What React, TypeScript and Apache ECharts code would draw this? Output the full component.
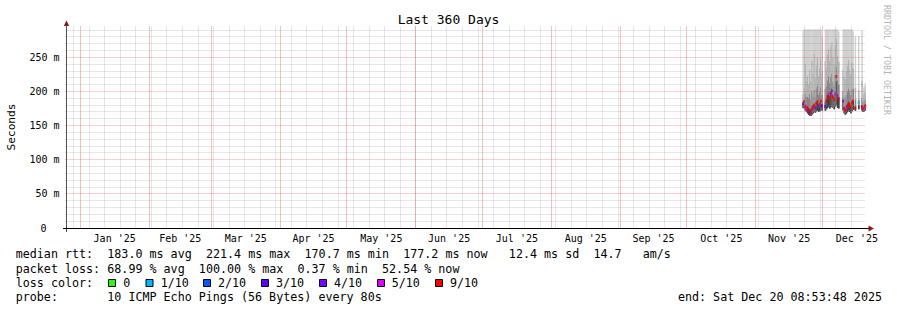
import React, { useEffect, useRef } from 'react';
import * as echarts from 'echarts';

// ---------- data ----------
const DAY = 86400000;
const START = Date.UTC(2024, 11, 25, 8, 53, 48);
const END = Date.UTC(2025, 11, 20, 8, 53, 48);
const SLOT_START = Date.UTC(2025, 10, 21, 12, 0, 0);
const SLOT_MS = 12 * 3600 * 1000;

const MONTH_STARTS = [
  Date.UTC(2025, 0, 1), Date.UTC(2025, 1, 1), Date.UTC(2025, 2, 1), Date.UTC(2025, 3, 1),
  Date.UTC(2025, 4, 1), Date.UTC(2025, 5, 1), Date.UTC(2025, 6, 1), Date.UTC(2025, 7, 1),
  Date.UTC(2025, 8, 1), Date.UTC(2025, 9, 1), Date.UTC(2025, 10, 1), Date.UTC(2025, 11, 1),
  Date.UTC(2026, 0, 1),
];
const MONTH_LABELS = ["Jan '25", "Feb '25", "Mar '25", "Apr '25", "May '25", "Jun '25",
  "Jul '25", "Aug '25", "Sep '25", "Oct '25", "Nov '25", "Dec '25"];
const FIRST_SUNDAY = Date.UTC(2024, 11, 29);

const Y_MAX = 296;
const Y_MAJOR = [50, 100, 150, 200, 250];

// smoke per 12h slot (ms); null = no data
const SMOKE_LO = [null,
  176, 175, 172, 170,
  168, 166, 165, 164, 166, 168, 170, 169, 171, 172, 170, 171, 173, 172,
  null, null,
  172, 174, 176, 178, 175, 177, 180, 176, 174, 178, 180, 176, 175,
  null, null, null,
  172, 168, 166, 168, 170, 172, 170, 168, 171, 173,
  null, 172, null, null, 174, null, null,
  172, 170, 171, 172, 173];
const SMOKE_P4 = [null,
  180, 181, 182, 178,
  178, 176, 175, 174, 178, 180, 182, 180, 184, 186, 181, 183, 186, 182,
  null, null,
  185, 190, 195, 198, 194, 200, 204, 196, 192, 200, 215, 196, 192,
  null, null, null,
  184, 178, 176, 180, 182, 185, 183, 180, 184, 186,
  null, 178, null, null, 180, null, null,
  180, 178, 178, 180, 180];
const SMOKE_P3 = [null,
  185, 188, 196, 192,
  192, 190, 196, 188, 200, 194, 202, 192, 204, 208, 195, 200, 206, 195,
  null, null,
  204, 208, 216, 222, 212, 220, 226, 214, 208, 224, 236, 216, 210,
  null, null, null,
  200, 192, 190, 195, 200, 204, 200, 195, 202, 204,
  null, 188, null, null, 188, null, null,
  190, 185, 186, 188, 186];
const SMOKE_P2 = [null,
  196, 205, 240, 215,
  222, 210, 232, 215, 245, 226, 255, 220, 238, 250, 222, 234, 248, 228,
  null, null,
  245, 235, 255, 262, 245, 266, 272, 250, 240, 268, 278, 252, 244,
  null, null, null,
  232, 222, 218, 230, 238, 246, 232, 225, 242, 234,
  null, 205, null, null, 202, null, null,
  215, 195, 197, 199, 195];
const SMOKE_HI = [null,
  289, 291, 291, 291,
  291, 291, 291, 291, 291, 291, 291, 291, 291, 291, 291, 291, 291, 280,
  null, null,
  291, 291, 291, 291, 291, 291, 291, 291, 291, 291, 291, 291, 288,
  null, null, null,
  291, 291, 291, 291, 291, 291, 291, 291, 291, 288,
  null, 281, null, null, 281, null, null,
  289, 205, 208, 212, 206];
const MEDIAN = [null,
  182, 185, 178, 175,
  176, 172, 170, 169, 174, 177, 180, 176, 183, 185, 178, 180, 186, 179,
  null, null,
  178, 186, 192, 196, 190, 198, 201, 192, 188, 196, 222, 193, 188,
  null, null, null,
  186, 175, 172, 176, 178, 182, 180, 177, 184, 186,
  null, 176, null, null, 184, null, null,
  178, 175, 176, 179, 177];
// loss in tenths
const LOSS = [null,
  3, 9, 9, 5,
  9, 9, 3, 9, 9, 9, 9, 4, 9, 9, 2, 9, 9, 3,
  null, null,
  3, 9, 9, 5, 9, 9, 2, 9, 9, 5, 9, 5, 9,
  null, null, null,
  3, 9, 9, 5, 9, 9, 9, 9, 9, 9,
  null, 9, null, null, 1, null, null,
  9, 9, 5, 9, 3];

const LEGEND_KEYS = [0, 1, 2, 3, 4, 5, 9];
const LEGEND_NAMES = ['0', '1/10', '2/10', '3/10', '4/10', '5/10', '9/10'];
const LOSS_COLORS: Record<number, string> = {
  0: '#26ff00', 1: '#00b8ff', 2: '#0059ff', 3: '#5e00ff', 4: '#7e00ff', 5: '#dd00ff', 9: '#ff0000',
};

const STATS_RTT = ['183.0 ms avg', '221.4 ms max', '170.7 ms min', '177.2 ms now', '12.4 ms sd', '14.7', 'am/s'];
const STATS_LOSS = ['68.99 % avg', '100.00 % max', '0.37 % min', '52.54 % now'];

// ---------- layout ----------
const W = 897, H = 310;
const MONO = "'DejaVu Sans Mono', monospace";
const GRID = { left: 65.5, top: 26, width: 800, height: 202 };
const SMOKE_COLORS = ['#d0d0d0', '#b2b2b2', '#868686', '#404040'];
const MINOR_COLOR = 'rgba(128,128,128,0.38)';
const MAJOR_COLOR = 'rgba(230,70,70,0.5)';
const V_MINOR_FILL = 'rgba(140,140,140,0.22)';
const V_MAJOR_FILL = 'rgba(235,90,90,0.38)';
const CH = 7.045; // monospace advance
const COL = (c: number) => 15.7 + c * CH;

const crisp = (v: number) => Math.round(v - 0.5) + 0.5;

function buildOption() {
  const smokeData: number[][] = [];
  const medData: number[][] = [];
  for (let k = 0; k < SMOKE_LO.length; k++) {
    if (SMOKE_LO[k] == null) continue;
    const t = SLOT_START + k * SLOT_MS;
    smokeData.push([t, SMOKE_LO[k]!, SMOKE_P4[k]!, SMOKE_P3[k]!, SMOKE_P2[k]!, SMOKE_HI[k]!]);
    medData.push([t + SLOT_MS / 2, MEDIAN[k]!, LOSS[k]!]);
  }
  const monthMids = MONTH_LABELS.map((_, i) => (MONTH_STARTS[i] + MONTH_STARTS[i + 1]) / 2);

  // grid lines: [x, y, orientation(0=vertical,1=horizontal), major(0/1)]
  const gridData: number[][] = [];
  for (let t = FIRST_SUNDAY; t < END; t += 7 * DAY) gridData.push([t, 100, 0, 0]);
  for (let v = 10; v < Y_MAX; v += 10) if (!Y_MAJOR.includes(v)) gridData.push([START, v, 1, 0]);
  for (let i = 0; i < 12; i++) gridData.push([MONTH_STARTS[i], 100, 0, 1]);
  for (const v of Y_MAJOR) gridData.push([START, v, 1, 1]);

  const textEl = (text: string, x: number, y: number, extra: any = {}, rotation = 0) => ({
    type: 'text', x, y, rotation, silent: true,
    style: { text, fontFamily: MONO, fontSize: 11.7, fill: '#000', align: 'left', verticalAlign: 'middle', ...extra },
  });

  const legendX = [108.5, 146, 203.5, 261.5, 319.5, 377.5, 435.5];
  const legendTextX = [123.3, 160.7, 218, 276, 334, 391.7, 450];
  const rttCols = [13, 27, 41, 55, 70, 82, 89];
  const lossCols = [13, 26, 40, 52];
  const L1 = 254.3, L2 = 268.7, L3 = 282.7, L4 = 296.7;

  const graphic: any[] = [
    textEl('Last 360 Days', 448.5, 19.5, { fontSize: 13, align: 'center' }),
    textEl('Seconds', 11, 127, { fontSize: 11.2, align: 'center' }, Math.PI / 2),
    textEl('RRDTOOL / TOBI OETIKER', 886.5, 60, { fontSize: 8.3, align: 'center', fill: '#b4b4b4' }, -Math.PI / 2),
    // axes
    { type: 'line', silent: true, z: 10, shape: { x1: 66.5, y1: 232, x2: 66.5, y2: 25 }, style: { stroke: '#505050', lineWidth: 1 } },
    { type: 'line', silent: true, z: 10, shape: { x1: 63, y1: 228.5, x2: 869, y2: 228.5 }, style: { stroke: '#000', lineWidth: 1 } },
    { type: 'polygon', silent: true, z: 10, shape: { points: [[63.8, 26], [69.2, 26], [66.5, 20.5]] }, style: { fill: '#8a1a1a' } },
    { type: 'polygon', silent: true, z: 10, shape: { points: [[868.5, 225.5], [868.5, 231.5], [874, 228.5]] }, style: { fill: '#8a1a1a' } },
    // legend text
    textEl('median rtt:', COL(0), L1),
    ...STATS_RTT.map((s, i) => textEl(s, COL(rttCols[i]), L1)),
    textEl('packet loss:', COL(0), L2),
    ...STATS_LOSS.map((s, i) => textEl(s, COL(lossCols[i]), L2)),
    textEl('loss color:', COL(0), L3),
    ...LEGEND_KEYS.map((k, i) => ({
      type: 'rect', silent: true, shape: { x: legendX[i], y: 279.5, width: 7, height: 7 },
      style: { fill: LOSS_COLORS[k], stroke: '#000', lineWidth: 1 },
    })),
    ...LEGEND_NAMES.map((s, i) => textEl(s, legendTextX[i], L3)),
    textEl('probe:', COL(0), L4),
    textEl('10 ICMP Echo Pings (56 Bytes) every 80s', COL(13), L4),
    textEl('end: Sat Dec 20 08:53:48 2025', COL(94), L4),
  ];

  return {
    animation: false,
    backgroundColor: '#ffffff',
    grid: { ...GRID, containLabel: false, outerBoundsMode: 'none' },
    xAxis: {
      type: 'value', min: START, max: END,
      axisLine: { show: false }, axisTick: { show: false }, splitLine: { show: false },
      axisLabel: {
        customValues: monthMids,
        formatter: (v: number) => {
          let best = 0;
          for (let i = 0; i < monthMids.length; i++) if (Math.abs(monthMids[i] - v) < Math.abs(monthMids[best] - v)) best = i;
          return MONTH_LABELS[best];
        },
        fontFamily: MONO, fontSize: 10, color: '#000', margin: 5,
      },
    },
    yAxis: {
      type: 'value', min: 0, max: Y_MAX, interval: 50,
      axisLine: { show: false }, axisTick: { show: false }, splitLine: { show: false },
      axisLabel: {
        formatter: (v: number) => (v === 0 ? '{z|0}' : v % 50 === 0 && v <= 250 ? `${v} m` : ''),
        rich: { z: { padding: [0, 13, 0, 0], fontFamily: MONO, fontSize: 10, color: '#000' } },
        fontFamily: MONO, fontSize: 10, color: '#000', margin: 6,
      },
    },
    series: [
      {
        type: 'custom', name: 'smoke', clip: true, silent: true, z: 2,
        encode: { x: 0, y: [1, 5] },
        data: smokeData,
        renderItem: (params: any, api: any) => {
          const t = api.value(0);
          const x0 = api.coord([t, 0])[0];
          const x1 = api.coord([t + SLOT_MS, 0])[0];
          const bot = api.coord([t, api.value(1)])[1];
          const tops = [5, 4, 3, 2];
          return {
            type: 'group',
            children: tops.map((idx, j) => {
              const top = api.coord([t, api.value(idx)])[1];
              return {
                type: 'rect',
                shape: { x: x0, y: top, width: x1 - x0 + 0.35, height: bot - top },
                style: { fill: SMOKE_COLORS[j] },
              };
            }),
          };
        },
      },
      {
        type: 'custom', name: 'grid', clip: false, silent: true, z: 3,
        encode: { x: 0, y: 1 },
        data: gridData,
        renderItem: (params: any, api: any) => {
          const horiz = api.value(2) === 1;
          const major = api.value(3) === 1;
          if (horiz) {
            const v = api.value(1);
            const p0 = api.coord([START, v]);
            const p1 = api.coord([END, v]);
            const y = crisp(p0[1]);
            return { type: 'line', shape: { x1: p0[0], y1: y, x2: p1[0], y2: y }, style: { stroke: major ? MAJOR_COLOR : MINOR_COLOR, lineWidth: 1, lineDash: [1, 1] } };
          }
          const t = api.value(0);
          const p0 = api.coord([t, 0]);
          const p1 = api.coord([t, Y_MAX]);
          const x = crisp(p0[0]);
          return { type: 'rect', shape: { x: x - 0.5, y: p1[1], width: 1, height: p0[1] - p1[1] }, style: { fill: major ? V_MAJOR_FILL : V_MINOR_FILL } };
        },
      },
      {
        type: 'scatter', name: 'median', silent: true,
        symbol: 'rect', symbolSize: [2, 3],
        data: medData,
        itemStyle: { color: (p: any) => LOSS_COLORS[p.data[2]] },
        z: 5,
      },
    ],
    graphic,
  };
}

export default function App() {
  const ref = useRef<HTMLDivElement>(null);
  useEffect(() => {
    document.body.style.margin = '0';
    const chart = echarts.init(ref.current!, null, { renderer: 'svg', width: W, height: H });
    chart.setOption(buildOption() as any);
    return () => chart.dispose();
  }, []);
  return <div ref={ref} style={{ width: W, height: H }} />;
}
